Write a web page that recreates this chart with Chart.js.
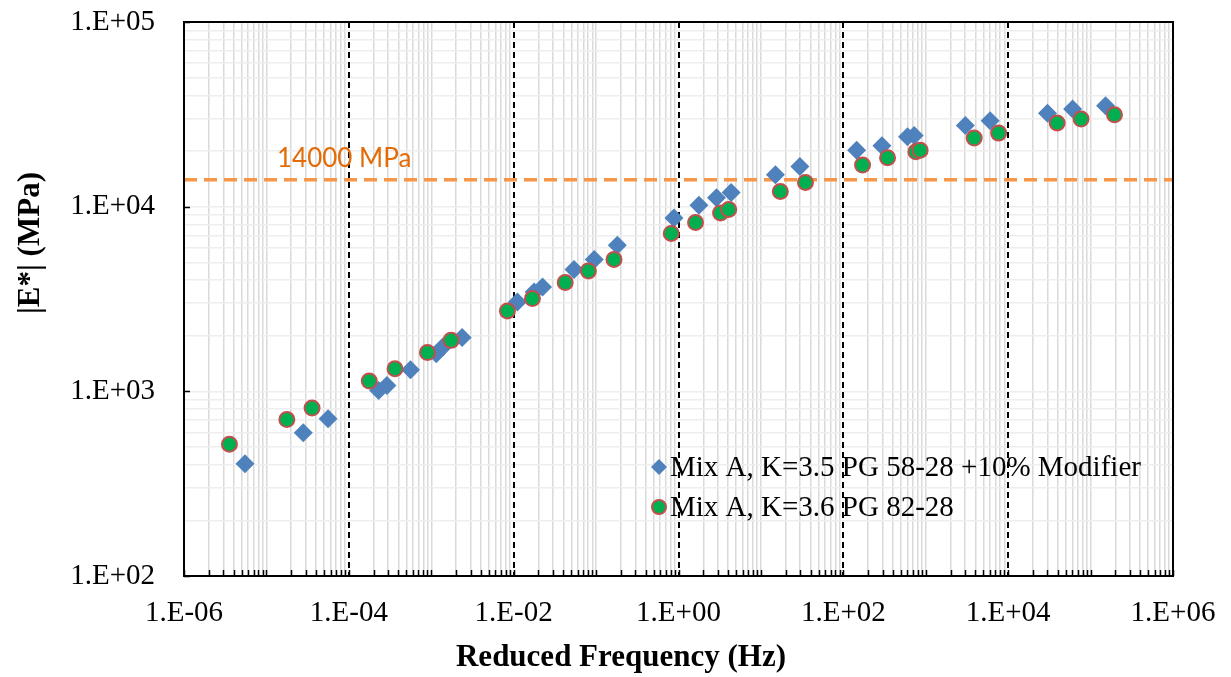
<!DOCTYPE html>
<html>
<head>
<meta charset="utf-8">
<title>|E*| master curves</title>
<script src="https://cdn.jsdelivr.net/npm/chart.js@4.4.1/dist/chart.umd.min.js"></script>
<style>
  html, body { margin: 0; padding: 0; background: #fff; }
  #wrap { width: 1231px; height: 677px; position: relative; }
</style>
</head>
<body>
<div id="wrap"><canvas id="masterCurve"></canvas></div>
<script>
// values: reduced frequency (Hz) vs |E*| (MPa)
var freqK35 = [5.5e-6, 2.8e-5, 5.6e-5, 2.3e-4, 2.9e-4, 5.6e-4, 1.15e-3, 1.38e-3, 2.37e-3,
    0.0111, 0.0177, 0.0224, 0.054, 0.095, 0.181, 0.88, 1.77, 2.89, 4.35, 15.0, 29.7,
    145, 294, 601, 724, 3020, 6040, 30000, 60500, 152000];
var modK35 = [406, 597, 711, 1012, 1077, 1309, 1600, 1738, 1954,
    3050, 3453, 3675, 4573, 5175, 6185, 8690, 10190, 11170, 11940, 14890, 16500,
    20230, 21380, 23890, 24300, 27540, 29190, 32100, 33760, 35200];

var freqK36 = [3.56e-6, 1.77e-5, 3.58e-5, 1.77e-4, 3.63e-4, 9.0e-4, 1.74e-3,
    8.4e-3, 0.0169, 0.0422, 0.0807, 0.165, 0.817, 1.61, 3.24, 4.07, 17.2, 34.7,
    171, 344, 759, 855, 3870, 7660, 39300, 76700, 195000];
var modK36 = [517, 703, 812, 1137, 1327, 1622, 1888,
    2723, 3180, 3883, 4490, 5175, 7160, 8200, 9250, 9650, 12080, 13520,
    16790, 18410, 19820, 20230, 23510, 25020, 28380, 29800, 31470];

var seriesNames = ['Mix A, K=3.5 PG 58-28 +10% Modifier', 'Mix A, K=3.6 PG 82-28'];
var limitMPa = 14000;
var limitLabel = '14000 MPa';
var xRange = [1e-6, 1e6];
var yRange = [1e2, 1e5];
var xLabelPowers = [-6, -4, -2, 0, 2, 4, 6];
var yLabelPowers = [2, 3, 4, 5];
var dashedPowers = [-4, -2, 0, 2, 4];

var serif = '"Liberation Serif", "Times New Roman", serif';
var blue = '#4F81BD', green = '#00B050', red = '#C0504D';

function toPoints(xs, ys) {
    return xs.map(function(x, i) { return { x: x, y: ys[i] }; });
}

// powers of ten only, written the Excel way: 1.E-04
function powerOf(v) {
    var e = Math.log10(v);
    return Math.abs(e - Math.round(e)) < 1e-9 ? Math.round(e) : null;
}
function sciLabel(e) {
    return '1.E' + (e < 0 ? '-' : '+') + String(Math.abs(e)).padStart(2, '0');
}

// 1..9 x 10^n ticks for every decade
function decadeTicks(scale) {
    var lo = Math.round(Math.log10(scale.min)), hi = Math.round(Math.log10(scale.max));
    var ticks = [];
    for (var e = lo; e < hi; e++) {
        for (var m = 1; m < 10; m++) ticks.push({ value: Number(m + 'e' + e) });
    }
    ticks.push({ value: Number('1e' + hi) });
    scale.ticks = ticks;
}

var pointK35 = { pointStyle: 'rectRot', radius: 9.5, backgroundColor: blue, borderColor: blue, borderWidth: 0, rotation: 0 };
var pointK36 = { pointStyle: 'circle', radius: 7.5, backgroundColor: green, borderColor: red, borderWidth: 2, rotation: 0 };

var decorations = {
    id: 'decorations',
    beforeDatasetsDraw: function(chart) {
        var ctx = chart.ctx, area = chart.chartArea, xs = chart.scales.x;
        ctx.save();
        ctx.strokeStyle = '#000';
        ctx.lineWidth = 2;
        ctx.setLineDash([6, 4]);
        dashedPowers.forEach(function(p) {
            var px = Math.round(xs.getPixelForValue(Math.pow(10, p)));
            ctx.beginPath();
            ctx.moveTo(px, area.top);
            ctx.lineTo(px, area.bottom);
            ctx.stroke();
        });
        ctx.restore();
    },
    afterDatasetsDraw: function(chart) {
        var ctx = chart.ctx, area = chart.chartArea;
        var xs = chart.scales.x, ys = chart.scales.y;
        ctx.save();
        // frame
        ctx.strokeStyle = '#000';
        ctx.lineWidth = 2;
        ctx.strokeRect(area.left, area.top, area.right - area.left, area.bottom - area.top);
        // inward tick marks
        ctx.beginPath();
        xs.ticks.forEach(function(t) {
            var px = Math.round(xs.getPixelForValue(t.value)) + 0.5;
            ctx.moveTo(px, area.bottom);
            ctx.lineTo(px, area.bottom - 6);
        });
        ys.ticks.forEach(function(t) {
            if (powerOf(t.value) === null) return;
            var py = Math.round(ys.getPixelForValue(t.value)) + 0.5;
            ctx.moveTo(area.left, py);
            ctx.lineTo(area.left + 6, py);
        });
        ctx.lineWidth = 1.5;
        ctx.stroke();

        // limit label
        ctx.fillStyle = '#E36C09';
        ctx.font = '26px Lato, "Liberation Sans", sans-serif';
        ctx.textAlign = 'left';
        ctx.textBaseline = 'middle';
        ctx.fillText(limitLabel, 277, ys.getPixelForValue(limitMPa) - 21);

        // legend
        ctx.font = '29px ' + serif;
        var legendStyles = [
            Object.assign({}, pointK35, { radius: 8 }),
            Object.assign({}, pointK36, { radius: 7 })
        ];
        seriesNames.forEach(function(name, i) {
            var y = 467 + i * 40;
            ctx.fillStyle = legendStyles[i].backgroundColor;
            ctx.strokeStyle = legendStyles[i].borderColor;
            ctx.lineWidth = legendStyles[i].borderWidth;
            Chart.helpers.drawPoint(ctx, legendStyles[i], 659, y);
            ctx.fillStyle = '#000';
            ctx.fillText(name, 670, y + 1);
        });

        // axis titles
        ctx.font = 'bold 31px ' + serif;
        ctx.textAlign = 'center';
        ctx.fillText('Reduced Frequency (Hz)', 621, 658);
        ctx.translate(31, 243);
        ctx.rotate(-Math.PI / 2);
        ctx.fillText('|E*| (MPa)', 0, 0);
        ctx.restore();
    }
};

new Chart(document.getElementById('masterCurve'), {
    type: 'scatter',
    data: {
        datasets: [{
            label: seriesNames[0],
            data: toPoints(freqK35, modK35),
            pointStyle: pointK35.pointStyle,
            pointRadius: pointK35.radius,
            backgroundColor: blue,
            borderColor: blue,
            borderWidth: 0,
            order: 2
        }, {
            label: seriesNames[1],
            data: toPoints(freqK36, modK36),
            pointStyle: 'circle',
            pointRadius: pointK36.radius,
            backgroundColor: green,
            borderColor: red,
            borderWidth: 2,
            order: 1
        }, {
            type: 'line',
            label: limitLabel,
            data: toPoints(xRange, [limitMPa, limitMPa]),
            borderColor: '#F79646',
            borderWidth: 3.5,
            borderDash: [13, 7],
            pointRadius: 0,
            fill: false,
            order: 3
        }]
    },
    options: {
        responsive: true,
        maintainAspectRatio: false,
        animation: false,
        layout: { padding: { top: 22, right: 58, left: 0, bottom: 0 } },
        plugins: {
            legend: { display: false },
            tooltip: { enabled: false }
        },
        scales: {
            x: {
                type: 'logarithmic',
                min: xRange[0],
                max: xRange[1],
                afterBuildTicks: decadeTicks,
                afterFit: function(scale) {
                    scale.height = 101;
                    scale.paddingLeft = 0;
                    scale.paddingRight = 0;
                },
                border: { display: false },
                grid: {
                    drawTicks: false,
                    lineWidth: 1.5,
                    color: function(c) {
                        var e = c.tick ? powerOf(c.tick.value) : null;
                        return e !== null && e % 2 === 0 ? 'rgba(0,0,0,0)' : '#dadada';
                    }
                },
                ticks: {
                    autoSkip: false,
                    maxRotation: 0,
                    padding: 20,
                    color: '#000',
                    font: { family: serif, size: 29 },
                    callback: function(value) {
                        var e = powerOf(value);
                        return e !== null && xLabelPowers.indexOf(e) >= 0 ? sciLabel(e) : '';
                    }
                }
            },
            y: {
                type: 'logarithmic',
                min: yRange[0],
                max: yRange[1],
                afterBuildTicks: decadeTicks,
                afterFit: function(scale) {
                    scale.width = 184;
                    scale.paddingTop = 0;
                    scale.paddingBottom = 0;
                },
                border: { display: false },
                grid: {
                    drawTicks: false,
                    lineWidth: 1.5,
                    color: '#eeeeee'
                },
                ticks: {
                    autoSkip: false,
                    padding: 29,
                    color: '#000',
                    font: { family: serif, size: 29 },
                    callback: function(value) {
                        var e = powerOf(value);
                        return e !== null && yLabelPowers.indexOf(e) >= 0 ? sciLabel(e) : '';
                    }
                }
            }
        }
    },
    plugins: [decorations]
});
</script>
</body>
</html>
